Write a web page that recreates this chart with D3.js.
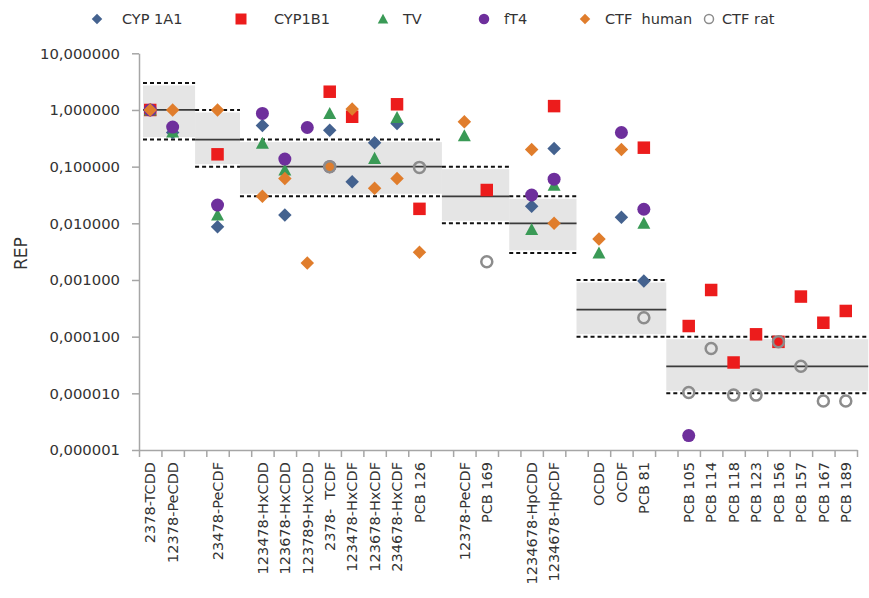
<!DOCTYPE html>
<html>
<head>
<meta charset="utf-8">
<script src="https://cdn.jsdelivr.net/npm/d3@7"></script>
<style>
  body { margin: 0; background: #fff; }
  svg text { font-family: "DejaVu Sans", Verdana, sans-serif; fill: #333; }
</style>
</head>
<body>
<svg id="chart" width="869" height="598"></svg>
<script>
// Congeners on the category axis; empty strings are spacer slots between groups
const categories = [
  "2378-TCDD", "12378-PeCDD", "",
  "23478-PeCDF", "",
  "123478-HxCDD", "123678-HxCDD", "123789-HxCDD", "2378-  TCDF",
  "123478-HxCDF", "123678-HxCDF", "234678-HxCDF", "PCB 126", "",
  "12378-PeCDF", "PCB 169", "",
  "1234678-HpCDD", "1234678-HpCDF", "",
  "OCDD", "OCDF", "PCB 81", "",
  "PCB 105", "PCB 114", "PCB 118", "PCB 123", "PCB 156", "PCB 157", "PCB 167", "PCB 189"
];

// Relative effect potencies per endpoint (null = not determined)
const cyp1a1 = [1.0, 0.4, null, 0.0087, null, 0.53, 0.014, null, 0.44, 0.054, 0.265, 0.58, null, null,
  null, null, null, 0.020, 0.21, null, null, 0.0128, 0.00096, null,
  null, null, null, null, null, null, null, null];
const cyp1b1 = [1.0, null, null, 0.165, null, null, null, null, 2.1, 0.76, null, 1.26, 0.018, null,
  null, 0.0387, null, null, 1.17, null, null, null, 0.216, null,
  0.000154, 0.000666, 0.000035, 0.00011, 0.000081, 0.00051, 0.000176, 0.000284];
const tv = [1.0, 0.41, null, 0.014, null, 0.26, 0.087, null, 0.87, null, 0.14, 0.74, null, null,
  0.35, null, null, 0.0078, 0.047, null, 0.0030, null, 0.01, null,
  null, null, null, null, null, null, null, null];
const ft4 = [1.0, 0.5, null, 0.021, null, 0.87, 0.136, 0.49, 0.1, null, null, null, null, null,
  null, null, null, 0.0316, 0.060, null, null, 0.40, 0.0177, null,
  0.0000018, null, null, null, null, null, null, null];
const ctfHuman = [1.0, 1.0, null, 1.0, null, 0.030, 0.062, 0.0020, 0.1, 1.04, 0.0415, 0.062, 0.0031, null,
  0.62, null, null, 0.20, 0.01, null, 0.0053, 0.20, null, null,
  null, null, null, null, null, null, null, null];
const ctfRat = [null, null, null, null, null, null, null, null, 0.1, null, null, null, 0.097, null,
  null, 0.0021, null, null, null, null, null, null, 0.000216, null,
  0.0000103, 0.000062, 0.0000093, 0.0000093, 0.000081, 0.000030, 0.0000073, 0.0000073];

// WHO TEF groups: first/last category index, TEF value and its range
const tefFirst = [0, 3, 5, 14, 17, 20, 24];
const tefLast  = [1, 3, 12, 15, 18, 22, 31];
const tefValue = [1, 0.3, 0.1, 0.03, 0.01, 0.0003, 0.00003];
const tefLow   = [0.3, 0.1, 0.03, 0.01, 0.003, 0.0001, 0.00001];
const tefHigh  = [3, 1, 0.3, 0.1, 0.03, 0.001, 0.0001];

const yTicks = [0.000001, 0.00001, 0.0001, 0.001, 0.01, 0.1, 1, 10];

const seriesNames = ["CYP 1A1", "CYP1B1", "TV", "fT4", "CTF  human", "CTF rat"];
const seriesData = [cyp1a1, cyp1b1, tv, ft4, ctfHuman, ctfRat];

// ---- drawing ----
const svg = d3.select("#chart");
const plotLeft = 139, plotRight = 857, plotTop = 53.3, plotBottom = 450;

const idx = d3.range(categories.length);
const x = d3.scaleBand().domain(idx).range([plotLeft, plotRight]).padding(0);
const xu = d3.scaleLinear().domain([0, categories.length]).range([plotLeft, plotRight]);
const y = d3.scaleLog().domain([1e-6, 10]).range([plotBottom, plotTop]);

const commaLocale = d3.formatLocale({ decimal: ",", thousands: ".", grouping: [3], currency: ["", ""] });
const fmt = commaLocale.format(".6f");

// marker shapes
const shapes = {
  diamond: (s) => { const h = s / 2; return `M0,${-h}L${h},0L0,${h}L${-h},0Z`; },
  square: (s) => { const h = s / 2; return `M${-h},${-h}H${h}V${h}H${-h}Z`; },
  triangle: (s) => { const h = s / 2; return `M0,${-h}L${h},${h * 0.85}L${-h},${h * 0.85}Z`; },
  circle: (s) => { const r = s / 2; return `M${r},0A${r},${r} 0 1,1 ${-r},0A${r},${r} 0 1,1 ${r},0Z`; }
};
const styles = [
  { shape: "diamond", size: 13.5, fill: "#44628f", stroke: "none" },
  { shape: "square", size: 12.5, fill: "#ec1c1c", stroke: "none" },
  { shape: "triangle", size: 13, fill: "#3a9a56", stroke: "none" },
  { shape: "circle", size: 13, fill: "#6e2f9c", stroke: "none" },
  { shape: "diamond", size: 13.5, fill: "#e07d2c", stroke: "none" },
  { shape: "circle", size: 11, fill: "none", stroke: "#8c8c8c" }
];

// TEF range boxes
const groups = tefFirst.map((f, i) => ({
  x0: Math.max(plotLeft + 4, xu(f - 0.5)),
  x1: xu(tefLast[i] + 1.5),
  v: tefValue[i], lo: tefLow[i], hi: tefHigh[i]
}));

const gBox = svg.append("g");
gBox.selectAll("rect").data(groups).join("rect")
  .attr("x", d => d.x0).attr("width", d => d.x1 - d.x0)
  .attr("y", d => y(d.hi) + 2.5).attr("height", d => y(d.lo) - y(d.hi) - 5)
  .attr("fill", "#cfcfcf").attr("fill-opacity", 0.55);

gBox.selectAll("line.hi").data(groups).join("line").attr("class", "hi")
  .attr("x1", d => d.x0).attr("x2", d => d.x1)
  .attr("y1", d => y(d.hi)).attr("y2", d => y(d.hi))
  .attr("stroke", "#111").attr("stroke-width", 2).attr("stroke-dasharray", "4,3");
gBox.selectAll("line.lo").data(groups).join("line").attr("class", "lo")
  .attr("x1", d => d.x0).attr("x2", d => d.x1)
  .attr("y1", d => y(d.lo)).attr("y2", d => y(d.lo))
  .attr("stroke", "#111").attr("stroke-width", 2).attr("stroke-dasharray", "4,3");
gBox.selectAll("line.mid").data(groups).join("line").attr("class", "mid")
  .attr("x1", d => d.x0).attr("x2", d => d.x1)
  .attr("y1", d => y(d.v)).attr("y2", d => y(d.v))
  .attr("stroke", "#3a3a3a").attr("stroke-width", 1.8);

// axes
const yAxis = svg.append("g").attr("transform", `translate(${plotLeft},0)`)
  .call(d3.axisLeft(y).tickValues(yTicks).tickFormat(fmt).tickSize(7).tickSizeOuter(0).tickPadding(12));
yAxis.select(".domain").attr("stroke", "#a6a6a6").attr("stroke-width", 1.5);
yAxis.selectAll(".tick line").attr("stroke", "#a6a6a6").attr("stroke-width", 1.5);
yAxis.selectAll(".tick text").attr("font-size", 14.8).attr("fill", "#333")
  .style("font-family", "'DejaVu Sans', Verdana, sans-serif");

const xTickAxis = svg.append("g").attr("transform", `translate(0,${plotBottom})`)
  .call(d3.axisBottom(xu).tickValues(d3.range(categories.length + 1)).tickFormat("").tickSize(7).tickSizeOuter(0));
xTickAxis.select(".domain").attr("stroke", "#a6a6a6").attr("stroke-width", 1.5);
xTickAxis.selectAll(".tick line").attr("stroke", "#a6a6a6").attr("stroke-width", 1.5);

const xLabelAxis = svg.append("g").attr("transform", `translate(0,${plotBottom})`)
  .call(d3.axisBottom(x).tickFormat(i => categories[i]).tickSize(0).tickPadding(0));
xLabelAxis.select(".domain").remove();
xLabelAxis.selectAll(".tick text")
  .attr("font-size", 14.5).attr("fill", "#333")
  .style("font-family", "'DejaVu Sans', Verdana, sans-serif")
  .style("white-space", "pre")
  .attr("text-anchor", "end")
  .attr("transform", "rotate(-90)")
  .attr("x", -12).attr("y", 0).attr("dy", "0.36em");

svg.append("text").attr("transform", `translate(21,${(plotTop + plotBottom) / 2 + 2}) rotate(-90)`)
  .attr("text-anchor", "middle").attr("dy", "0.35em").attr("font-size", 17).text("REP");

// markers
seriesData.forEach((vals, s) => {
  const st = styles[s];
  const pts = idx.filter(i => vals[i] != null).map(i => ({ i, v: vals[i] }));
  svg.append("g").selectAll("path").data(pts).join("path")
    .attr("transform", d => `translate(${x(d.i) + x.bandwidth() / 2},${y(d.v)})`)
    .attr("d", shapes[st.shape](st.size))
    .attr("fill", st.fill)
    .attr("stroke", st.stroke)
    .attr("stroke-width", st.stroke === "none" ? 0 : 2.5);
});

// legend
const legendX = [97, 241, 383, 484, 585, 709];
const legend = svg.append("g");
seriesNames.forEach((name, s) => {
  const st = styles[s];
  const sz = s === 5 ? 9 : (st.shape === "square" ? 11 : 10.5);
  legend.append("path")
    .attr("transform", `translate(${legendX[s]},19)`)
    .attr("d", shapes[st.shape](sz))
    .attr("fill", st.fill).attr("stroke", st.stroke)
    .attr("stroke-width", st.stroke === "none" ? 0 : 1.5);
  legend.append("text")
    .attr("x", legendX[s] + (s === 0 ? 25 : s === 1 ? 33 : s === 5 ? 13 : 20))
    .attr("y", 19).attr("dy", "0.35em")
    .attr("font-size", 14.5)
    .style("white-space", "pre")
    .text(name);
});
</script>
</body>
</html>
